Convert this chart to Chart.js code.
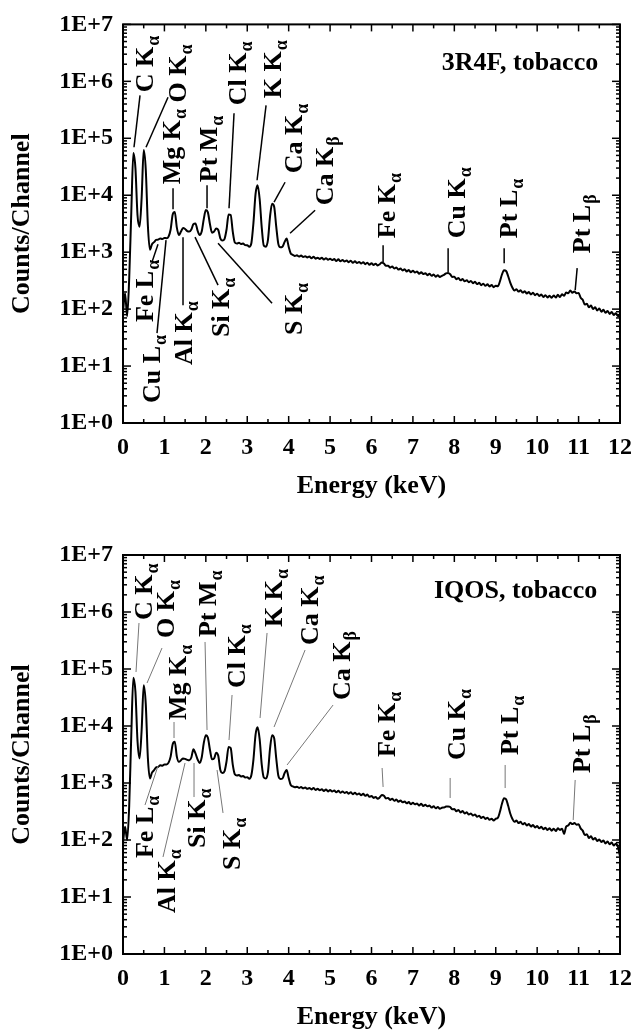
<!DOCTYPE html>
<html>
<head>
<meta charset="utf-8">
<script src="https://cdn.jsdelivr.net/npm/chart.js@4.4.1/dist/chart.umd.min.js"></script>
<style>
  body { margin: 0; background: #fff; }
  canvas { display: block; }
</style>
</head>
<body>
<canvas id="chartTop" width="633" height="502"></canvas>
<canvas id="chartBottom" width="633" height="531"></canvas>
<script>
// channel energies (keV)
const energies = [
  0, 0.05, 0.1, 0.15, 0.2, 0.25, 0.3, 0.35, 0.4, 0.45,
  0.5, 0.55, 0.6, 0.65, 0.7, 0.75, 0.8, 0.85, 0.9, 0.95,
  1, 1.05, 1.1, 1.15, 1.2, 1.25, 1.3, 1.35, 1.4, 1.45,
  1.5, 1.55, 1.6, 1.65, 1.7, 1.75, 1.8, 1.85, 1.9, 1.95,
  2, 2.05, 2.1, 2.15, 2.2, 2.25, 2.3, 2.35, 2.4, 2.45,
  2.5, 2.55, 2.6, 2.65, 2.7, 2.75, 2.8, 2.85, 2.9, 2.95,
  3, 3.05, 3.1, 3.15, 3.2, 3.25, 3.3, 3.35, 3.4, 3.45,
  3.5, 3.55, 3.6, 3.65, 3.7, 3.75, 3.8, 3.85, 3.9, 3.95,
  4, 4.05, 4.1, 4.15, 4.2, 4.25, 4.3, 4.35, 4.4, 4.45,
  4.5, 4.55, 4.6, 4.65, 4.7, 4.75, 4.8, 4.85, 4.9, 4.95,
  5, 5.05, 5.1, 5.15, 5.2, 5.25, 5.3, 5.35, 5.4, 5.45,
  5.5, 5.55, 5.6, 5.65, 5.7, 5.75, 5.8, 5.85, 5.9, 5.95,
  6, 6.05, 6.1, 6.15, 6.2, 6.25, 6.3, 6.35, 6.4, 6.45,
  6.5, 6.55, 6.6, 6.65, 6.7, 6.75, 6.8, 6.85, 6.9, 6.95,
  7, 7.05, 7.1, 7.15, 7.2, 7.25, 7.3, 7.35, 7.4, 7.45,
  7.5, 7.55, 7.6, 7.65, 7.7, 7.75, 7.8, 7.85, 7.9, 7.95,
  8, 8.05, 8.1, 8.15, 8.2, 8.25, 8.3, 8.35, 8.4, 8.45,
  8.5, 8.55, 8.6, 8.65, 8.7, 8.75, 8.8, 8.85, 8.9, 8.95,
  9, 9.05, 9.1, 9.15, 9.2, 9.25, 9.3, 9.35, 9.4, 9.45,
  9.5, 9.55, 9.6, 9.65, 9.7, 9.75, 9.8, 9.85, 9.9, 9.95,
  10, 10.05, 10.1, 10.15, 10.2, 10.25, 10.3, 10.35, 10.4, 10.45,
  10.5, 10.55, 10.6, 10.65, 10.7, 10.75, 10.8, 10.85, 10.9, 10.95,
  11, 11.05, 11.1, 11.15, 11.2, 11.25, 11.3, 11.35, 11.4, 11.45,
  11.5, 11.55, 11.6, 11.65, 11.7, 11.75, 11.8, 11.85, 11.9, 11.95, 12
];

// counts per channel, 3R4F tobacco
const counts3R4F = [
  90, 190, 75, 350, 5000, 55000, 30000, 4500, 2800, 9000,
  62000, 28000, 3000, 1100, 1380, 1500, 1640, 1660, 1740, 1700,
  1780, 1760, 1880, 2500, 4600, 5100, 2700, 2000, 2300, 2650,
  2550, 2350, 2300, 2500, 3100, 3200, 2400, 2000, 2300, 3800,
  5500, 5000, 3100, 2200, 2300, 2600, 2450, 1750, 1600, 1700,
  2500, 4600, 4500, 2300, 1480, 1420, 1470, 1390, 1420, 1330,
  1320, 1250, 1450, 3300, 10500, 15000, 8500, 2700, 1300, 1250,
  1650, 4200, 7100, 6300, 2800, 1400, 1220, 1250, 1500, 1740,
  1250, 950, 900, 860, 880, 840, 870, 825, 850, 810,
  840, 780, 830, 770, 800, 760, 795, 740, 785, 735,
  770, 725, 755, 700, 748, 690, 730, 685, 715, 668,
  710, 650, 690, 645, 675, 630, 668, 615, 655, 600,
  640, 595, 628, 585, 615, 660, 630, 575, 580, 535,
  560, 515, 540, 495, 515, 478, 500, 458, 485, 445,
  470, 440, 458, 418, 445, 412, 428, 395, 418, 385,
  405, 372, 392, 365, 385, 400, 425, 432, 410, 368,
  370, 335, 352, 320, 338, 308, 322, 296, 312, 286,
  302, 275, 290, 263, 280, 256, 272, 250, 264, 243,
  258, 252, 305, 405, 482, 468, 378, 292, 240, 212,
  224, 203, 214, 195, 206, 188, 200, 181, 193, 176,
  187, 170, 180, 164, 176, 160, 172, 158, 174, 160,
  178, 163, 182, 172, 196, 190, 212, 194, 204, 190,
  192, 158, 146, 120, 124, 108, 116, 100, 108, 95,
  102, 90, 97, 86, 93, 82, 89, 79, 85, 75, 80
];

// counts per channel, IQOS tobacco
const countsIQOS = [
  90, 170, 100, 400, 7000, 70000, 40000, 5500, 2700, 8500,
  52000, 24000, 2800, 1200, 1520, 1680, 1880, 1920, 2040, 2010,
  2120, 2110, 2280, 2900, 4800, 5300, 2900, 2350, 2500, 2700,
  2650, 2550, 2500, 2800, 3900, 3300, 2600, 2250, 2800, 5000,
  6900, 6200, 3800, 2600, 2700, 3400, 3000, 1700, 1500, 1600,
  2400, 4300, 4100, 2100, 1420, 1360, 1380, 1300, 1330, 1250,
  1260, 1190, 1380, 2600, 7000, 9500, 5800, 2100, 1250, 1200,
  1550, 4000, 6900, 6100, 2700, 1350, 1180, 1200, 1480, 1690,
  1230, 920, 870, 840, 860, 820, 850, 805, 830, 790,
  820, 770, 815, 755, 790, 745, 780, 725, 770, 712,
  752, 708, 738, 686, 730, 672, 712, 668, 696, 650,
  690, 636, 672, 628, 655, 612, 645, 596, 628, 572,
  590, 548, 570, 530, 560, 615, 600, 535, 548, 505,
  530, 488, 512, 470, 492, 458, 475, 440, 462, 425,
  450, 422, 438, 402, 432, 396, 414, 390, 404, 370,
  390, 360, 378, 352, 368, 372, 386, 388, 380, 345,
  350, 320, 336, 305, 322, 292, 306, 280, 292, 268,
  280, 256, 266, 244, 256, 234, 246, 226, 236, 220,
  236, 244, 312, 432, 542, 518, 398, 292, 236, 208,
  220, 198, 208, 188, 198, 180, 190, 172, 184, 166,
  176, 160, 170, 154, 164, 150, 160, 146, 158, 144,
  160, 150, 158, 128, 172, 180, 200, 190, 198, 186,
  188, 160, 146, 122, 126, 108, 116, 102, 108, 96,
  102, 92, 98, 87, 94, 84, 90, 80, 86, 76, 52
];

const xTicks = [0, 1, 2, 3, 4, 5, 6, 7, 8, 9, 10, 11, 12];
const yDecades = [1, 10, 100, 1000, 10000, 100000, 1000000, 10000000];

// peak labels: text anchor (energy, log10 counts) and leader line ends
const labels3R4F = [
  { name: 'C K', sub: 'α', e: 0.725, lg: 5.807, line: [0.411, 5.754, 0.266, 4.842] },
  { name: 'O K', sub: 'α', e: 1.53, lg: 5.63, line: [1.087, 5.72, 0.556, 4.842] },
  { name: 'Mg K', sub: 'α', e: 1.377, lg: 4.193, line: [1.208, 4.123, 1.208, 3.754] },
  { name: 'Pt M', sub: 'α', e: 2.271, lg: 4.228, line: [2.029, 4.175, 2.029, 3.772] },
  { name: 'Cl K', sub: 'α', e: 2.971, lg: 5.579, line: [2.681, 5.439, 2.560, 3.772] },
  { name: 'K K', sub: 'α', e: 3.816, lg: 5.702, line: [3.454, 5.579, 3.237, 4.263] },
  { name: 'Ca K', sub: 'α', e: 4.324, lg: 4.386, line: [3.913, 4.228, 3.647, 3.877] },
  { name: 'Ca K', sub: 'β', e: 5.072, lg: 3.825, line: [4.638, 3.737, 4.034, 3.333] },
  { name: 'Fe K', sub: 'α', e: 6.570, lg: 3.246, line: [6.280, 3.123, 6.280, 2.825] },
  { name: 'Cu K', sub: 'α', e: 8.261, lg: 3.246, line: [7.850, 3.070, 7.850, 2.649] },
  { name: 'Pt L', sub: 'α', e: 9.517, lg: 3.246, line: [9.203, 3.070, 9.203, 2.807] },
  { name: 'Pt L', sub: 'β', e: 11.280, lg: 2.982, line: [10.966, 2.719, 10.918, 2.333] },
  { name: 'Fe L', sub: 'α', e: 0.725, lg: 1.772, line: [0.700, 2.825, 0.845, 3.140] },
  { name: 'Cu L', sub: 'α', e: 0.894, lg: 0.351, line: [0.821, 1.579, 1.039, 3.211] },
  { name: 'Al K', sub: 'α', e: 1.667, lg: 1.018, line: [1.449, 2.070, 1.449, 3.263] },
  { name: 'Si K', sub: 'α', e: 2.560, lg: 1.509, line: [2.295, 2.421, 1.739, 3.263] },
  { name: 'S K', sub: 'α', e: 4.324, lg: 1.544, line: [3.599, 2.105, 2.295, 3.158] }
];

const labelsIQOS = [
  { name: 'C K', sub: 'α', e: 0.700, lg: 5.860, line: [0.386, 5.807, 0.314, 4.947] },
  { name: 'O K', sub: 'α', e: 1.232, lg: 5.544, line: [0.942, 5.368, 0.580, 4.754] },
  { name: 'Mg K', sub: 'α', e: 1.522, lg: 4.105, line: [1.232, 4.070, 1.232, 3.789] },
  { name: 'Pt M', sub: 'α', e: 2.246, lg: 5.561, line: [1.981, 5.474, 2.029, 3.930] },
  { name: 'Cl K', sub: 'α', e: 2.947, lg: 4.667, line: [2.633, 4.544, 2.560, 3.754] },
  { name: 'K K', sub: 'α', e: 3.841, lg: 5.737, line: [3.478, 5.632, 3.309, 4.140] },
  { name: 'Ca K', sub: 'α', e: 4.710, lg: 5.421, line: [4.396, 5.333, 3.647, 3.982] },
  { name: 'Ca K', sub: 'β', e: 5.483, lg: 4.456, line: [5.072, 4.368, 3.961, 3.316] },
  { name: 'Fe K', sub: 'α', e: 6.570, lg: 3.456, line: [6.256, 3.263, 6.280, 2.930] },
  { name: 'Cu K', sub: 'α', e: 8.261, lg: 3.404, line: [7.899, 3.088, 7.899, 2.737] },
  { name: 'Pt L', sub: 'α', e: 9.541, lg: 3.491, line: [9.227, 3.316, 9.227, 2.912] },
  { name: 'Pt L', sub: 'β', e: 11.280, lg: 3.175, line: [10.918, 3.053, 10.870, 2.351] },
  { name: 'Fe L', sub: 'α', e: 0.725, lg: 1.684, line: [0.531, 2.614, 0.845, 3.298] },
  { name: 'Al K', sub: 'α', e: 1.256, lg: 0.719, line: [0.966, 1.702, 1.498, 3.351] },
  { name: 'Si K', sub: 'α', e: 1.981, lg: 1.860, line: [1.715, 2.754, 1.715, 3.351] },
  { name: 'S K', sub: 'α', e: 2.826, lg: 1.474, line: [2.415, 2.474, 2.271, 3.228] }
];

const FONT = '"Liberation Serif", "Times New Roman", serif';

// inward tick marks on all four sides plus the frame
const frameAndTicks = {
  id: 'frameAndTicks',
  afterDraw(chart) {
    const { ctx, chartArea: a, scales: { x, y } } = chart;
    ctx.save();
    ctx.strokeStyle = '#000';
    ctx.lineWidth = 1.5;
    const tick = (x1, y1, x2, y2) => {
      ctx.beginPath(); ctx.moveTo(x1, y1); ctx.lineTo(x2, y2); ctx.stroke();
    };
    xTicks.forEach(v => {
      const p = x.getPixelForValue(v);
      tick(p, a.bottom, p, a.bottom - 7);
      tick(p, a.top, p, a.top + 7);
      if (v < 12) {
        const m = x.getPixelForValue(v + 0.5);
        tick(m, a.bottom, m, a.bottom - 4);
        tick(m, a.top, m, a.top + 4);
      }
    });
    yDecades.forEach((d, i) => {
      const p = y.getPixelForValue(d);
      tick(a.left, p, a.left + 8, p);
      tick(a.right, p, a.right - 8, p);
      if (i < yDecades.length - 1) {
        for (let k = 2; k <= 9; k++) {
          const m = y.getPixelForValue(d * k);
          tick(a.left, m, a.left + 4, m);
          tick(a.right, m, a.right - 4, m);
        }
      }
    });
    ctx.lineWidth = 2;
    ctx.strokeRect(a.left, a.top, a.width, a.height);
    ctx.restore();
  }
};

// rotated peak labels with leader lines, and the sample name
const peakLabels = {
  id: 'peakLabels',
  afterDraw(chart, args, opts) {
    const { ctx, scales: { x, y } } = chart;
    const px = e => x.getPixelForValue(e);
    const py = lg => y.getPixelForValue(Math.pow(10, lg));
    ctx.save();
    ctx.strokeStyle = opts.lineColor;
    ctx.lineWidth = opts.lineWidth;
    ctx.fillStyle = '#000';
    opts.items.forEach(p => {
      const l = p.line;
      ctx.beginPath();
      ctx.moveTo(px(l[0]), py(l[1]));
      ctx.lineTo(px(l[2]), py(l[3]));
      ctx.stroke();
      ctx.save();
      ctx.translate(px(p.e), py(p.lg));
      ctx.rotate(-Math.PI / 2);
      ctx.textAlign = 'left';
      ctx.textBaseline = 'alphabetic';
      ctx.font = 'bold 26px ' + FONT;
      ctx.fillText(p.name, 0, 0);
      const w = ctx.measureText(p.name).width;
      ctx.font = 'bold 18px ' + FONT;
      ctx.fillText(p.sub, w + 1, 6);
      ctx.restore();
    });
    ctx.font = 'bold 26px ' + FONT;
    ctx.textAlign = 'right';
    ctx.textBaseline = 'alphabetic';
    ctx.fillText(opts.title, px(opts.titleAt[0]), py(opts.titleAt[1]));
    ctx.restore();
  }
};

function makeChart(canvasId, counts, items, title, titleAt, padTop, leaderColor, leaderWidth) {
  let points = energies.map((e, i) => ({ x: e, y: counts[i] }));
  return new Chart(document.getElementById(canvasId), {
    type: 'line',
    data: {
      datasets: [{
        data: points,
        borderColor: '#000',
        borderWidth: 2,
        pointRadius: 0,
        cubicInterpolationMode: 'monotone',
        fill: false
      }]
    },
    options: {
      responsive: false,
      animation: false,
      devicePixelRatio: 1,
      layout: { padding: { top: padTop, right: 13, left: 0, bottom: 0 } },
      plugins: {
        legend: { display: false },
        tooltip: { enabled: false },
        peakLabels: { items: items, title: title, titleAt: titleAt, lineColor: leaderColor, lineWidth: leaderWidth }
      },
      scales: {
        x: {
          type: 'linear',
          min: 0,
          max: 12,
          grid: { display: false, drawTicks: false },
          border: { display: false },
          afterBuildTicks: s => { s.ticks = xTicks.map(v => ({ value: v })); },
          afterFit: s => { s.height = 79; s.paddingLeft = 0; s.paddingRight = 0; },
          ticks: {
            color: '#000',
            font: { family: FONT, size: 24, weight: 'bold' },
            padding: 10,
            maxRotation: 0,
            autoSkip: false
          },
          title: {
            display: true,
            text: 'Energy (keV)',
            color: '#000',
            font: { family: FONT, size: 26, weight: 'bold' },
            padding: { top: 0, bottom: 0 }
          }
        },
        y: {
          type: 'logarithmic',
          min: 1,
          max: 10000000,
          grid: { display: false, drawTicks: false },
          border: { display: false },
          afterBuildTicks: s => { s.ticks = yDecades.map(v => ({ value: v })); },
          afterFit: s => { s.width = 123; },
          ticks: {
            color: '#000',
            font: { family: FONT, size: 24, weight: 'bold' },
            padding: 10,
            autoSkip: false,
            callback: v => '1E+' + Math.round(Math.log10(v))
          },
          title: {
            display: true,
            text: 'Counts/Channel',
            color: '#000',
            font: { family: FONT, size: 26, weight: 'bold' },
            padding: { top: 7, bottom: 0 }
          }
        }
      }
    },
    plugins: [frameAndTicks, peakLabels]
  });
}

makeChart('chartTop', counts3R4F, labels3R4F, '3R4F, tobacco', [11.473, 6.193], 24, '#000', 1.5);
makeChart('chartBottom', countsIQOS, labelsIQOS, 'IQOS, tobacco', [11.449, 6.246], 53, '#777', 1);
</script>
</body>
</html>
